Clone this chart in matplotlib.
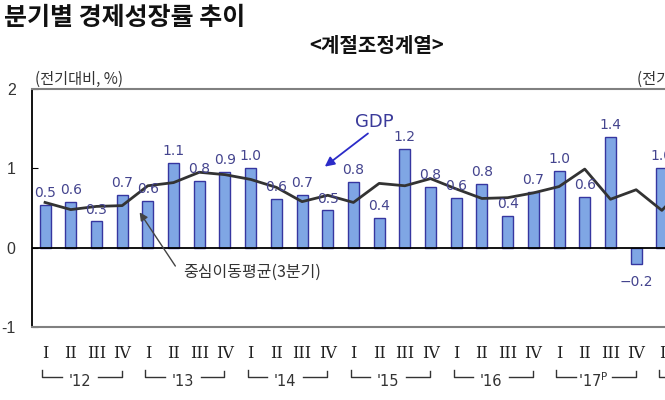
import matplotlib
matplotlib.use('Agg')
import matplotlib.pyplot as plt
from matplotlib.transforms import blended_transform_factory

# ---- data ----
quarter_names = ['I', 'II', 'III', 'IV']
years = ["'12", "'13", "'14", "'15", "'16", "'17$^{\\mathrm{P}}$", "'18"]
gdp = [0.54, 0.58, 0.33, 0.66,
       0.59, 1.07, 0.84, 0.95,
       1.00, 0.61, 0.66, 0.47,
       0.83, 0.37, 1.24, 0.76,
       0.63, 0.80, 0.40, 0.70,
       0.97, 0.64, 1.39, -0.21,
       1.00, 0.60]
gdp_labels = ['0.5', '0.6', '0.3', '0.7',
              '0.6', '1.1', '0.8', '0.9',
              '1.0', '0.6', '0.7', '0.5',
              '0.8', '0.4', '1.2', '0.8',
              '0.6', '0.8', '0.4', '0.7',
              '1.0', '0.6', '1.4', '\u22120.2',
              '1.0', '0.6']
moving_avg = [0.57, 0.48, 0.52, 0.53,
              0.78, 0.82, 0.95, 0.92,
              0.86, 0.76, 0.58, 0.66,
              0.57, 0.81, 0.78, 0.87,
              0.74, 0.62, 0.63, 0.69,
              0.77, 0.99, 0.61, 0.73,
              0.47, 0.80]
yticks = [-1, 0, 1, 2]

KR = ['Noto Sans CJK KR', 'DejaVu Sans']
plt.rcParams['font.family'] = ['DejaVu Sans']

W, H = 665, 400
fig = plt.figure(figsize=(W / 100, H / 100), dpi=100)
fig.patch.set_facecolor('white')

ax_left, ax_top, ax_bot = 32.2, 88.9, 327.1
slot = 25.7
n = len(gdp)
ax = fig.add_axes([ax_left / W, (H - ax_bot) / H, n * slot / W, (ax_bot - ax_top) / H])

x = list(range(n))
ax.bar(x, gdp, width=0.43, color='#7fa6e4', edgecolor='#3636a0', linewidth=1.0, zorder=2)
ax.plot(x, moving_avg, color='#333333', lw=2.0, zorder=3)
ax.axhline(0, color='black', lw=1.3, zorder=4)

ax.set_xlim(-0.5, n - 0.5)
ax.set_ylim(-1, 2)
ax.set_yticks(yticks)
ax.set_yticklabels([str(t) for t in yticks], fontsize=11.5, color='#333333',
                   family='Liberation Sans')
ax.tick_params(axis='y', direction='in', length=4, pad=12, color='black')
ax.set_xticks([])

for s in ['top', 'bottom']:
    ax.spines[s].set_color('#808080')
    ax.spines[s].set_linewidth(1.5)
ax.spines['left'].set_color('black')
ax.spines['left'].set_linewidth(1.3)
ax.spines['right'].set_visible(False)

# value labels
for i, (v, lab) in enumerate(zip(gdp, gdp_labels)):
    if v >= 0:
        ax.annotate(lab, (i, v), xytext=(0, 3.5), textcoords='offset points',
                    ha='center', va='bottom', fontsize=10, color='#44448e', zorder=5)
    else:
        ax.annotate(lab, (i, v), xytext=(0, -8), textcoords='offset points',
                    ha='center', va='top', fontsize=10, color='#44448e', zorder=5)

# x-axis labels: quarters and year brackets
trans = blended_transform_factory(ax.transData, ax.transAxes)

def fy(py):
    return (ax_bot - py) / (ax_bot - ax_top)

for i in range(n):
    ax.text(i, fy(353), quarter_names[i % 4], transform=trans, ha='center', va='center',
            fontsize=11.5, family='DejaVu Serif', color='#222222', clip_on=False)

for k, yr in enumerate(years):
    b = 4 * k
    ax.plot([b - 0.1, b - 0.1, b + 0.65], [fy(370), fy(377), fy(377)], transform=trans,
            color='#333333', lw=1.0, clip_on=False)
    ax.plot([b + 2.05, b + 2.98, b + 2.98], [fy(377), fy(377), fy(371)], transform=trans,
            color='#333333', lw=1.0, clip_on=False)
    ax.text(b + 1.35, fy(381), yr, transform=trans, ha='center', va='center',
            fontsize=10.5, color='#333333', clip_on=False)

# annotations
ax.annotate('', xy=(10.8, 1.0), xytext=(12.65, 1.46),
            arrowprops=dict(arrowstyle='-|>', color='#2b2bc8', lw=1.3, mutation_scale=14),
            zorder=6)
ax.text(12.8, 1.58, 'GDP', ha='center', va='center', fontsize=13, color='#3a3a9a', zorder=6)

ax.annotate('', xy=(3.62, 0.475), xytext=(5.13, -0.26),
            arrowprops=dict(arrowstyle='-|>', color='#444444', lw=1.0, mutation_scale=12),
            zorder=6)
ax.text(5.37, -0.31, '중심이동평균(3분기)', ha='left', va='center', fontsize=11.5,
        color='#333333', family=KR, zorder=6)

# titles
fig.text(4 / W, 1 - 18 / H, '분기별 경제성장률 추이', fontsize=18, fontweight='bold',
         family=KR, va='center', ha='left', color='#111111')
fig.text(377 / W, 1 - 45 / H, '<계절조정계열>', fontsize=14.5, fontweight='bold',
         family=KR, va='center', ha='center', color='#111111')
fig.text(35 / W, 1 - 79 / H, '(전기대비, %)', fontsize=11, family=KR,
         va='center', ha='left', color='#333333')
fig.text(637 / W, 1 - 79 / H, '(전기대비, %)', fontsize=11, family=KR,
         va='center', ha='left', color='#333333')

fig.savefig('out.png', dpi=100, facecolor='white')
